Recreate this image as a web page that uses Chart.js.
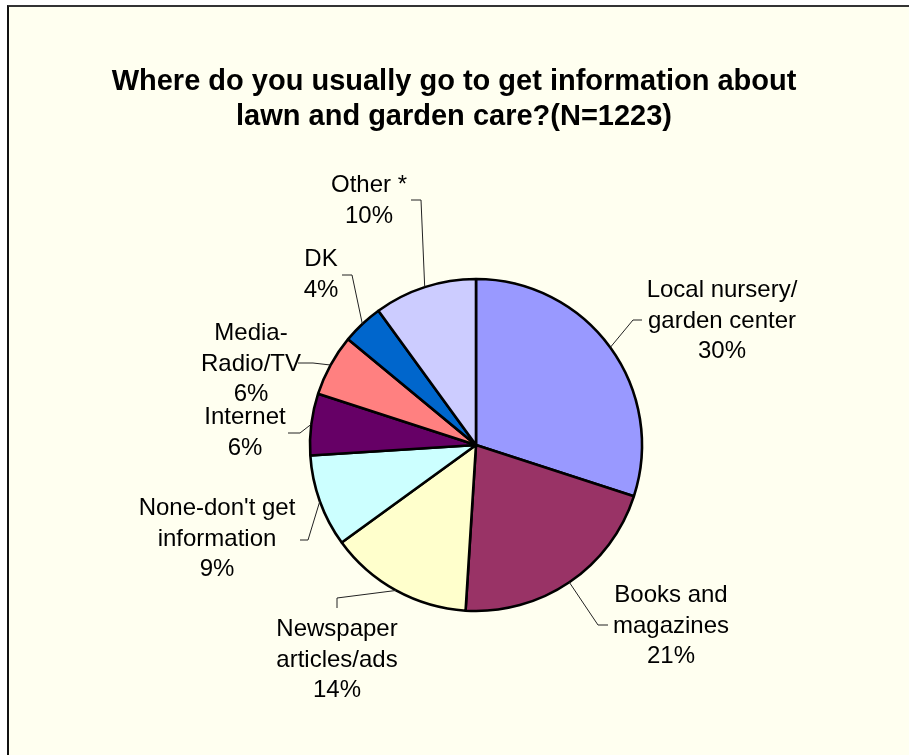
<!DOCTYPE html>
<html>
<head>
<meta charset="utf-8">
<script src="https://cdn.jsdelivr.net/npm/chart.js@4/dist/chart.umd.min.js"></script>
<style>
    body { margin: 0; background: #ffffff; }
    #frame {
        position: absolute; left: 7px; top: 5px; width: 960px; height: 800px;
        background: #fffff0; border-left: 2px solid #111; border-top: 2px solid #333;
    }
    #wrap { position: absolute; left: 0; top: 0; width: 909px; height: 755px; }
</style>
</head>
<body>
<div id="frame"></div>
<div id="wrap"><canvas id="pieChart" width="909" height="755"></canvas></div>
<script>
// Survey answers, clockwise from 12 o'clock
const categories = [
    ['Local nursery/', 'garden center'],
    ['Books and', 'magazines'],
    ['Newspaper', 'articles/ads'],
    ["None-don't get", 'information'],
    ['Internet'],
    ['Media-', 'Radio/TV'],
    ['DK'],
    ['Other *']
];
const percents = [30, 21, 14, 9, 6, 6, 4, 10];
const sliceColors = ['#9999ff', '#993366', '#ffffcc', '#ccffff', '#660066', '#ff8080', '#0066cc', '#ccccff'];
const titleLines = ['Where do you usually go to get information about', 'lawn and garden care?(N=1223)'];

// label placement relative to the pie centre: text centre x / first baseline y,
// then the elbow and end of each leader line
const labelPos = [[246, -148], [195, 157], [-139, 191], [-259, 70], [-231, -21], [-225, -105], [-155, -179], [-107, -253]];
const leaderElbow = [[157, -125], [122, 180], [-139, 153], [-168, 95], [-176, -12], [-163, -82], [-124, -170], [-55, -245]];
const leaderEnd = [[166, -125], [132, 180], [-139, 163], [-176, 95], [-188, -12], [-178, -82], [-134, -170], [-65, -245]];

const FONT = '"Liberation Sans", Arial, sans-serif';

const labelPlugin = {
    id: 'pieLabels',
    afterDraw(chart) {
        const ctx = chart.ctx;
        const arcs = chart.getDatasetMeta(0).data;
        ctx.save();

        // title
        ctx.fillStyle = '#000';
        ctx.textAlign = 'center';
        ctx.textBaseline = 'alphabetic';
        ctx.font = 'bold 29px ' + FONT;
        titleLines.forEach((line, i) => ctx.fillText(line, 454, 90 + i * 35));

        ctx.font = '24px ' + FONT;
        arcs.forEach((arc, i) => {
            const cx = arc.x, cy = arc.y;
            const mid = (arc.startAngle + arc.endAngle) / 2;
            const px = cx + Math.cos(mid) * arc.outerRadius;
            const py = cy + Math.sin(mid) * arc.outerRadius;

            // leader line
            ctx.strokeStyle = '#222';
            ctx.lineWidth = 1;
            ctx.beginPath();
            ctx.moveTo(px, py);
            ctx.lineTo(cx + leaderElbow[i][0], cy + leaderElbow[i][1]);
            ctx.lineTo(cx + leaderEnd[i][0], cy + leaderEnd[i][1]);
            ctx.stroke();

            // label text
            const lines = categories[i].concat([percents[i] + '%']);
            lines.forEach((t, j) => {
                ctx.fillText(t, cx + labelPos[i][0], cy + labelPos[i][1] + j * 30.5);
            });
        });
        ctx.restore();
    }
};

const ctx = document.getElementById('pieChart').getContext('2d');
new Chart(ctx, {
    type: 'pie',
    data: {
        labels: categories.map(c => c.join(' ')),
        datasets: [{
            data: percents,
            backgroundColor: sliceColors,
            borderColor: '#000',
            borderWidth: 2.6
        }]
    },
    options: {
        responsive: false,
        animation: false,
        radius: 166,
        layout: { padding: { left: 43, right: 0, top: 135, bottom: 0 } },
        plugins: {
            legend: { display: false },
            tooltip: { enabled: false }
        }
    },
    plugins: [labelPlugin]
});
</script>
</body>
</html>
